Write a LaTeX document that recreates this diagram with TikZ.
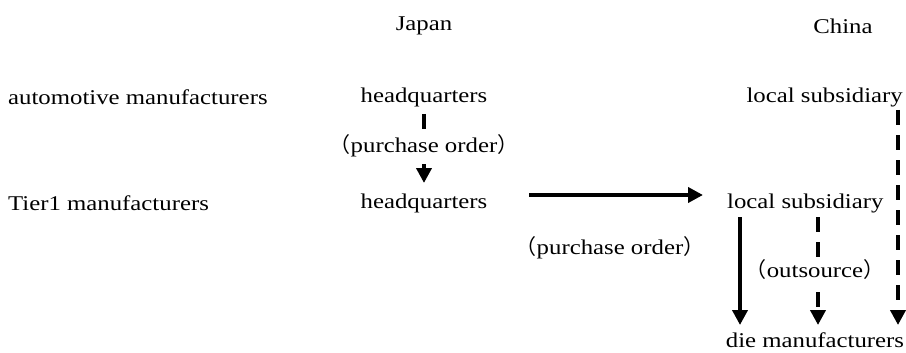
\documentclass[tikz,border=0pt]{standalone}
\usepackage{fontspec}
\setmainfont{Liberation Serif}[FakeStretch=1.18]
\newfontfamily\cjk{Noto Sans CJK JP}
\usetikzlibrary{arrows.meta}
\newcommand{\lpar}{{\cjk （}}
\newcommand{\rpar}{{\cjk ）}}
\begin{document}
\begin{tikzpicture}[x=1pt,y=-1pt,
  lbl/.style={font=\fontsize{21}{24}\selectfont, inner sep=0pt},
  bglbl/.style={lbl, fill=white, inner sep=2pt},
  arr/.style={line width=4pt, -{Triangle[length=15pt,width=15pt]}},
  darr/.style={arr, dash pattern=on 15pt off 10pt}]
\useasboundingbox (0,0) rectangle (906,353);
\node[lbl] (japan) at (424,26) {Japan};
\node[lbl] (china) at (843,26) {China};
\node[lbl, anchor=west] (auto) at (8,97) {automotive manufacturers};
\node[lbl] (hq1) at (424,97) {headquarters};
\node[lbl, anchor=east] (ls1) at (903,97) {local subsidiary};
\node[lbl, anchor=west] (tier) at (8,203) {Tier1 manufacturers};
\node[lbl] (hq2) at (424,203) {headquarters};
\node[lbl, anchor=west] (ls2) at (727,203) {local subsidiary};
\node[lbl] (die) at (815,340) {die manufacturers};
% connectors
\coordinate (a1s) at (424,114);
\coordinate (a1e) at (424,183);
\draw[darr] (a1s) -- (a1e);
\node[bglbl] (po1) at (424,146) {\lpar purchase order\rpar};
\coordinate (hs) at (529,195);
\coordinate (he) at (703,195);
\draw[arr] (hs) -- (he);
\node[lbl] (po2) at (610,248) {\lpar purchase order\rpar};
\coordinate (ss) at (740,217);
\coordinate (se) at (740,325);
\draw[arr] (ss) -- (se);
\coordinate (ms) at (818,217);
\coordinate (me) at (818,325);
\draw[darr] (ms) -- (me);
\node[bglbl] (out) at (815,270) {\lpar outsource\rpar};
\coordinate (rs) at (898,110);
\coordinate (re) at (898,325);
\draw[darr] (rs) -- (re);
\end{tikzpicture}
\end{document}
